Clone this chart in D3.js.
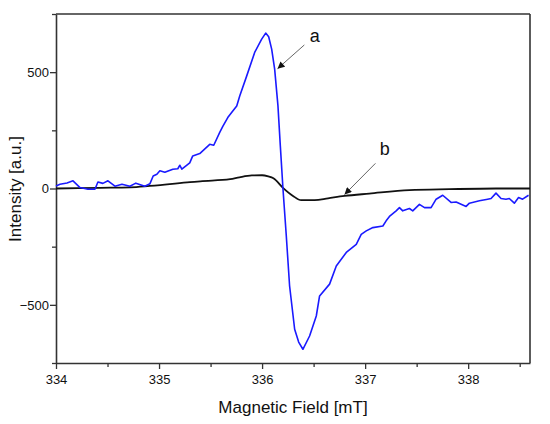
<!DOCTYPE html>
<html>
<head>
<meta charset="utf-8">
<script src="https://cdn.jsdelivr.net/npm/d3@7"></script>
<style>
  body { margin: 0; background: #fff; }
  svg { display: block; font-family: "Liberation Sans", Arial, sans-serif; }
</style>
</head>
<body>
<svg id="chart" width="550" height="424"></svg>
<script>
// Data -----------------------------------------------------------------------------------

// curve a (blue), field in mT
var fieldA = [334.000, 334.039, 334.107, 334.165, 334.233, 334.310, 334.378, 334.407, 334.455, 334.504,
    334.572, 334.640, 334.717, 334.775, 334.862, 334.911, 334.943, 334.979, 335.008, 335.056,
    335.134, 335.182, 335.202, 335.221, 335.298, 335.327, 335.395, 335.492, 335.531, 335.589,
    335.620, 335.667, 335.710, 335.754, 335.783, 335.851, 335.928, 335.996, 336.035, 336.064,
    336.093, 336.122, 336.154, 336.177, 336.203, 336.235, 336.267, 336.316, 336.355, 336.396,
    336.461, 336.526, 336.558, 336.655, 336.720, 336.817, 336.914, 336.962, 337.011, 337.075,
    337.172, 337.204, 337.236, 337.301, 337.333, 337.365, 337.430, 337.462, 337.527, 337.576,
    337.640, 337.689, 337.753, 337.834, 337.883, 337.980, 338.012, 338.109, 338.189, 338.222,
    338.270, 338.319, 338.367, 338.399, 338.448, 338.489, 338.528, 338.586];
var intensityA = [11, 18, 24, 33, 4, -3, -3, 28, 22, 33,
    10, 18, 10, 23, 10, 20, 54, 61, 76, 70,
    83, 85, 100, 83, 110, 140, 150, 190, 186, 241,
    268, 305, 330, 355, 398, 484, 585, 642, 668, 652,
    599, 513, 355, 183, -3, -204, -419, -605, -660, -691,
    -634, -548, -462, -411, -333, -275, -240, -197, -182, -168,
    -161, -139, -120, -96, -82, -96, -86, -96, -68, -82,
    -82, -46, -29, -60, -58, -77, -63, -53, -46, -43,
    -20, -43, -46, -43, -63, -39, -46, -29];

// curve b (black)
var fieldB = [334.00, 334.43, 334.72, 334.91, 335.30, 335.40, 335.69, 335.78, 335.90, 336.00,
    336.06, 336.11, 336.20, 336.30, 336.38, 336.51, 336.64, 336.80, 337.04, 337.43,
    337.82, 338.27, 338.60];
var intensityB = [0, 3, 5, 11, 27, 31, 40, 48, 56, 57,
    52, 44, 4, -32, -50, -50, -42, -32, -22, -7,
    -3, 0, 0];

var xTicks = [334, 335, 336, 337, 338];
var xMinorTicks = [334.5, 335.5, 336.5, 337.5, 338.5];
var yTicks = [-500, 0, 500];
var yMinorTicks = [-750, -250, 250, 750];

// labels a / b with arrows: [label, text x, text y, arrow from x, y, arrow to x, y]
var notes = [
    ["a", 336.51, 651, 336.41, 617, 336.15, 515],
    ["b", 337.19, 165, 337.10, 108, 336.80, -26]
];

// Draw -----------------------------------------------------------------------------------

var svg = d3.select("#chart");
var margin = { top: 14, right: 20, bottom: 61, left: 56 };
var width = 550 - margin.left - margin.right;
var height = 424 - margin.top - margin.bottom;

var x = d3.scaleLinear().domain([334, 338.6]).range([0, width]);
var y = d3.scaleLinear().domain([-750, 750]).range([height, 0]);

var defs = svg.append("defs");
defs.append("marker")
    .attr("id", "head")
    .attr("viewBox", "0 0 10 10")
    .attr("refX", 10).attr("refY", 5)
    .attr("markerWidth", 9).attr("markerHeight", 7)
    .attr("markerUnits", "userSpaceOnUse")
    .attr("orient", "auto")
    .append("path")
    .attr("d", "M0,0 L10,5 L0,10 Z")
    .attr("fill", "#111");

var g = svg.append("g").attr("transform", "translate(" + margin.left + "," + margin.top + ")");

var axisColor = "#333";

// x axis
var xAxis = g.append("g").attr("transform", "translate(0," + height + ")")
    .call(d3.axisBottom(x).tickValues(xTicks).tickFormat(d3.format("d")).tickSize(6).tickSizeOuter(0));
g.append("g").attr("transform", "translate(0," + height + ")")
    .call(d3.axisBottom(x).tickValues(xMinorTicks).tickFormat("").tickSize(4).tickSizeOuter(0))
    .select(".domain").remove();

// y axis
var yAxis = g.append("g")
    .call(d3.axisLeft(y).tickValues(yTicks).tickFormat(d3.format("d")).tickSize(6).tickSizeOuter(0));
g.append("g")
    .call(d3.axisLeft(y).tickValues(yMinorTicks).tickFormat("").tickSize(4).tickSizeOuter(0))
    .select(".domain").remove();

g.selectAll(".tick line").attr("stroke", axisColor).attr("stroke-width", 1.3);
g.selectAll(".domain").attr("stroke", axisColor).attr("stroke-width", 1.6);
g.selectAll(".tick text").attr("fill", "#111").style("font-size", "13px")
    .style("font-family", "'Liberation Sans', Arial, sans-serif");
xAxis.selectAll(".tick text").attr("dy", "1.05em").attr("y", 7);
yAxis.selectAll(".tick text").attr("x", -7);

// frame top and right
g.append("line").attr("x1", 0).attr("x2", width).attr("y1", 0).attr("y2", 0)
    .attr("stroke", axisColor).attr("stroke-width", 1.6);
g.append("line").attr("x1", width).attr("x2", width).attr("y1", 0).attr("y2", height)
    .attr("stroke", axisColor).attr("stroke-width", 1.6);

// curves
var lineA = d3.line()
    .x(function (d, i) { return x(fieldA[i]); })
    .y(function (d) { return y(d); });
var lineB = d3.line()
    .x(function (d, i) { return x(fieldB[i]); })
    .y(function (d) { return y(d); })
    .curve(d3.curveMonotoneX);

g.append("path").datum(intensityB)
    .attr("d", lineB)
    .attr("fill", "none")
    .attr("stroke", "#111")
    .attr("stroke-width", 1.8);

g.append("path").datum(intensityA)
    .attr("d", lineA)
    .attr("fill", "none")
    .attr("stroke", "#1a1aff")
    .attr("stroke-width", 1.6)
    .attr("stroke-linejoin", "round");

// annotations
notes.forEach(function (n) {
    g.append("text")
        .attr("x", x(n[1])).attr("y", y(n[2]))
        .attr("text-anchor", "middle")
        .attr("dominant-baseline", "middle")
        .style("font-size", "18px")
        .attr("fill", "#111")
        .text(n[0]);
    g.append("line")
        .attr("x1", x(n[3])).attr("y1", y(n[4]))
        .attr("x2", x(n[5])).attr("y2", y(n[6]))
        .attr("stroke", "#666")
        .attr("stroke-width", 1)
        .attr("marker-end", "url(#head)");
});

// axis titles
svg.append("text")
    .attr("x", margin.left + width / 2)
    .attr("y", 413)
    .attr("text-anchor", "middle")
    .style("font-size", "17px")
    .attr("fill", "#111")
    .text("Magnetic Field [mT]");

svg.append("text")
    .attr("transform", "translate(20.5,189) rotate(-90)")
    .attr("text-anchor", "middle")
    .style("font-size", "17px")
    .attr("fill", "#111")
    .text("Intensity [a.u.]");
</script>
</body>
</html>
